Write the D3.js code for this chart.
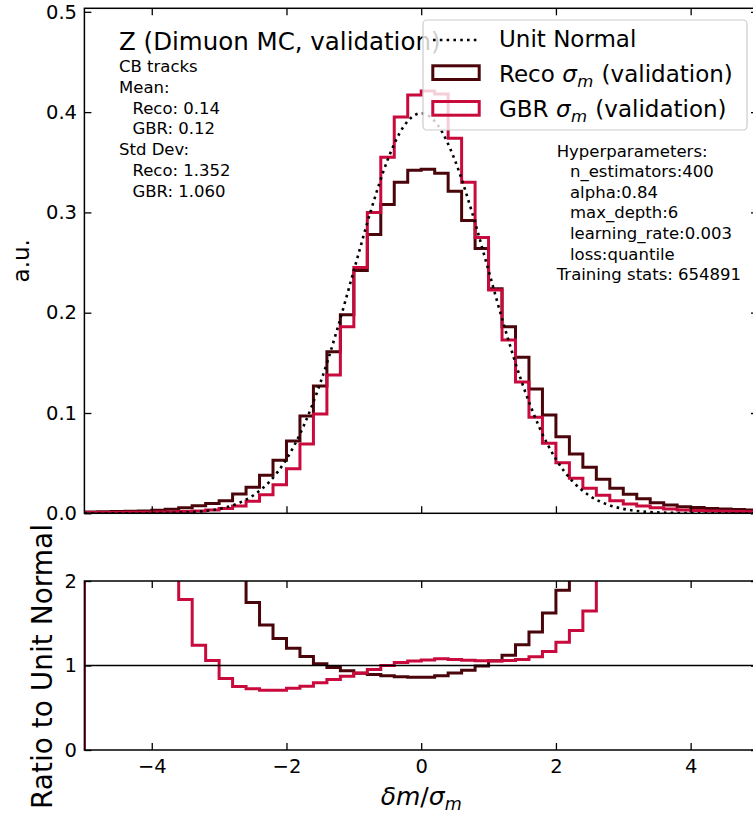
<!DOCTYPE html>
<html><head><meta charset="utf-8">
<script src="https://cdn.jsdelivr.net/npm/d3@7"></script>
<style>
body{margin:0;background:#fff}
svg{display:block}
text{font-family:"DejaVu Sans",sans-serif;fill:#000}
</style>
</head><body>
<svg id="chart" width="753" height="816"></svg>
<script>
// ---------------- data ----------------
const binEdges = [-5,-4.8,-4.6,-4.4,-4.2,-4,-3.8,-3.6,-3.4,-3.2,-3,-2.8,-2.6,-2.4,-2.2,-2,-1.8,-1.6,-1.4,-1.2,-1,-0.8,-0.6,-0.4,-0.2,0,0.2,0.4,0.6,0.8,1,1.2,1.4,1.6,1.8,2,2.2,2.4,2.6,2.8,3,3.2,3.4,3.6,3.8,4,4.2,4.4,4.6,4.8,5];
const recoHist = [0.0013,0.0015,0.0017,0.0020,0.0024,0.0030,0.0040,0.0056,0.0075,0.0098,0.0126,0.0192,0.026,0.038,0.053,0.072,0.097,0.127,0.161,0.198,0.242,0.278,0.308,0.330,0.342,0.343,0.339,0.321,0.292,0.264,0.224,0.186,0.1555,0.124,0.098,0.0764,0.059,0.0458,0.0339,0.0249,0.0190,0.0145,0.0106,0.0084,0.0066,0.0058,0.0049,0.0043,0.0037,0.0033];
const gbrHist = [0.0008,0.0008,0.0009,0.0010,0.0011,0.0012,0.0014,0.0017,0.0023,0.0033,0.0047,0.0072,0.0120,0.0185,0.0285,0.0445,0.069,0.099,0.138,0.186,0.245,0.300,0.355,0.395,0.417,0.421,0.418,0.374,0.330,0.275,0.2226,0.1728,0.131,0.0957,0.0698,0.0505,0.0349,0.0249,0.0180,0.0126,0.0093,0.0072,0.0056,0.0043,0.0034,0.0027,0.0023,0.0020,0.0017,0.0016];
const recoRatio = [80,60,40,28,18,12,8,5.5,4,3,2.5,2.2,1.745,1.48,1.32,1.205,1.107,1.022,0.977,0.937,0.908,0.893,0.878,0.868,0.862,0.862,0.88,0.91,0.945,0.995,1.055,1.12,1.245,1.395,1.62,1.89,2.4,3,4,5.5,8,11,16,24,35,50,75,110,160,240];
const gbrRatio = [40,25,15,9,5,3.5,2.5,1.78,1.24,1.06,0.845,0.752,0.724,0.708,0.708,0.73,0.755,0.795,0.835,0.872,0.912,0.952,1.0,1.036,1.052,1.065,1.08,1.072,1.062,1.055,1.052,1.058,1.072,1.105,1.166,1.275,1.415,1.645,2.3,3,4,5.5,8,11,16,24,35,50,75,110];
const normalX = [-5,-4.75,-4.5,-4.25,-4,-3.75,-3.5,-3.25,-3,-2.75,-2.5,-2.25,-2,-1.75,-1.5,-1.25,-1,-0.75,-0.5,-0.25,0,0.25,0.5,0.75,1,1.25,1.5,1.75,2,2.25,2.5,2.75,3,3.25,3.5,3.75,4,4.25,4.5,4.75,5];
const normalY = [0.0000,0.0000,0.0000,0.0000,0.0001,0.0004,0.0009,0.0020,0.0044,0.0091,0.0175,0.0317,0.0540,0.0863,0.1295,0.1826,0.2420,0.3011,0.3521,0.3867,0.3989,0.3867,0.3521,0.3011,0.2420,0.1826,0.1295,0.0863,0.0540,0.0317,0.0175,0.0091,0.0044,0.0020,0.0009,0.0004,0.0001,0.0000,0.0000,0.0000,0.0000];
const xTicks = [-4,-2,0,2,4];
const yTicksTop = [0,0.1,0.2,0.3,0.4,0.5];
const yTicksRatio = [0,1,2];
const titleText = "Z (Dimuon MC, validation)";
const statsLines = ["CB tracks","Mean:","  Reco: 0.14","  GBR: 0.12","Std Dev:","  Reco: 1.352","  GBR: 1.060"];
const hyperLines = ["Hyperparameters:","  n_estimators:400","  alpha:0.84","  max_depth:6","  learning_rate:0.003","  loss:quantile","Training stats: 654891"];
const legendLabels = ["Unit Normal","Reco","GBR"];

// ---------------- layout ----------------
const recoColor = "#4a050a", gbrColor = "#c80a3c";
const L = 84.4, R = 758, topT = 8.3, topB = 513.3, ratT = 581, ratB = 750;
const tickFs = 19.5;

const svg = d3.select("#chart");
svg.append("rect").attr("width",753).attr("height",816).attr("fill","#fff");

const x = d3.scaleLinear().domain([-5,5]).range([L,R]);
const yTop = d3.scaleLinear().domain([0,0.5035]).range([topB,topT]);
const yRat = d3.scaleLinear().domain([0,2]).range([ratB,ratT]);

const defs = svg.append("defs");
defs.append("clipPath").attr("id","clipTop").append("rect")
  .attr("x",L).attr("y",topT).attr("width",R-L).attr("height",topB-topT);
defs.append("clipPath").attr("id","clipRat").append("rect")
  .attr("x",L).attr("y",ratT).attr("width",R-L).attr("height",ratB-ratT);

function stepPoints(vals){
  const pts = [[binEdges[0],0]];
  vals.forEach((v,i)=>{ pts.push([binEdges[i],v]); pts.push([binEdges[i+1],v]); });
  pts.push([binEdges[binEdges.length-1],0]);
  return pts;
}
function stepLine(yS){ return d3.line().x(d=>x(d[0])).y(d=>yS(d[1])); }

// ---------- top panel ----------
const gTop = svg.append("g").attr("clip-path","url(#clipTop)");

svg.append("text").attr("x",119).attr("y",50).attr("font-size",24.5).text(titleText);
statsLines.forEach((s,i)=>{
  const ind = s.startsWith("  ");
  svg.append("text").attr("x",ind?132.5:119).attr("y",71.7+i*20.9)
    .attr("font-size",16.5).text(s.trim());
});
hyperLines.forEach((s,i)=>{
  const ind = s.startsWith("  ");
  svg.append("text").attr("x",ind?570:556.7).attr("y",156.6+i*20.6)
    .attr("font-size",16.5).text(s.trim());
});

gTop.append("path").datum(stepPoints(recoHist)).attr("d",stepLine(yTop))
  .attr("fill","none").attr("stroke",recoColor).attr("stroke-width",3).attr("stroke-linejoin","miter");
gTop.append("path").datum(stepPoints(gbrHist)).attr("d",stepLine(yTop))
  .attr("fill","none").attr("stroke",gbrColor).attr("stroke-width",3).attr("stroke-linejoin","miter");
gTop.append("path").datum(normalX.map((v,i)=>[v,normalY[i]]))
  .attr("d",d3.line().x(d=>x(d[0])).y(d=>yTop(d[1])).curve(d3.curveMonotoneX))
  .attr("fill","none").attr("stroke","#000").attr("stroke-width",2.6).attr("stroke-dasharray","2.6,4.2");

function frameAxes(y0,y1,yS,yTicks,fmt){
  const axL = svg.append("g").attr("transform",`translate(${L},0)`)
    .call(d3.axisLeft(yS).tickValues(yTicks).tickSize(-7).tickPadding(7.4).tickFormat(fmt));
  const axR = svg.append("g").attr("transform",`translate(${R},0)`)
    .call(d3.axisRight(yS).tickValues(yTicks).tickSize(-7).tickFormat(""));
  const axT = svg.append("g").attr("transform",`translate(0,${y0})`)
    .call(d3.axisTop(x).tickValues(xTicks).tickSize(-7).tickFormat(""));
  const axB = svg.append("g").attr("transform",`translate(0,${y1})`)
    .call(d3.axisBottom(x).tickValues(xTicks).tickSize(-7).tickPadding(9));
  [axL,axR,axT,axB].forEach(a=>{
    a.select(".domain").remove();
    a.selectAll(".tick line").attr("stroke","#000").attr("stroke-width",1.3);
    a.selectAll("text").attr("font-family","DejaVu Sans").attr("font-size",tickFs).attr("fill","#000");
  });
  svg.append("rect").attr("x",L).attr("y",y0).attr("width",R-L).attr("height",y1-y0)
    .attr("fill","none").attr("stroke","#000").attr("stroke-width",1.5);
  return axB;
}
const topBottomAxis = frameAxes(topT,topB,yTop,yTicksTop,d3.format(".1f"));
topBottomAxis.selectAll("text").remove();

// legend
const lg = svg.append("g");
lg.append("rect").attr("x",423).attr("y",20).attr("width",324).attr("height",110)
  .attr("rx",4).attr("fill","#fff").attr("fill-opacity",0.8).attr("stroke","#cccccc").attr("stroke-width",1.2);
lg.append("line").attr("x1",433).attr("x2",480).attr("y1",40).attr("y2",40)
  .attr("stroke","#000").attr("stroke-width",2.6).attr("stroke-dasharray","2.6,4.2");
lg.append("rect").attr("x",432.8).attr("y",65.8).attr("width",46.4).attr("height",13.7)
  .attr("fill","none").attr("stroke",recoColor).attr("stroke-width",3);
lg.append("rect").attr("x",432.8).attr("y",101.5).attr("width",46.4).attr("height",13.7)
  .attr("fill","none").attr("stroke",gbrColor).attr("stroke-width",3);
lg.append("text").attr("x",499).attr("y",46.7).attr("font-size",23).text(legendLabels[0]);
[legendLabels[1],legendLabels[2]].forEach((lab,i)=>{
  const t = lg.append("text").attr("x",499).attr("y",81.7+i*35).attr("font-size",23);
  t.append("tspan").text(lab+" ");
  t.append("tspan").attr("font-style","italic").text("σ");
  t.append("tspan").attr("font-style","italic").attr("font-size",16.5).attr("dx",0.5).attr("dy",5.5).text("m");
  t.append("tspan").attr("dy",-5.5).attr("dx",1).attr("xml:space","preserve").text(" (validation)");
});

// axis label top
svg.append("text").attr("transform",`translate(29,${(topT+topB)/2}) rotate(-90)`)
  .attr("text-anchor","middle").attr("font-size",23).text("a.u.");

// ---------- ratio panel ----------
const gRat = svg.append("g").attr("clip-path","url(#clipRat)");
gRat.append("path").datum(stepPoints(recoRatio)).attr("d",stepLine(yRat))
  .attr("fill","none").attr("stroke",recoColor).attr("stroke-width",3);
gRat.append("path").datum(stepPoints(gbrRatio)).attr("d",stepLine(yRat))
  .attr("fill","none").attr("stroke",gbrColor).attr("stroke-width",3);
gRat.append("line").attr("x1",L).attr("x2",R).attr("y1",yRat(1)).attr("y2",yRat(1))
  .attr("stroke","#000").attr("stroke-width",1.5);
frameAxes(ratT,ratB,yRat,yTicksRatio,d3.format("d"));

svg.append("text").attr("transform",`translate(52,${(ratT+ratB)/2+1}) rotate(-90)`)
  .attr("text-anchor","middle").attr("font-size",28).text("Ratio to Unit Normal");

// x label
const xl = svg.append("text").attr("x",(L+R)/2).attr("y",805).attr("text-anchor","middle").attr("font-size",25);
xl.append("tspan").attr("font-style","italic").text("δm");
xl.append("tspan").text("/");
xl.append("tspan").attr("font-style","italic").text("σ");
xl.append("tspan").attr("font-style","italic").attr("font-size",17.5).attr("dy",5).text("m");
</script>
</body></html>
